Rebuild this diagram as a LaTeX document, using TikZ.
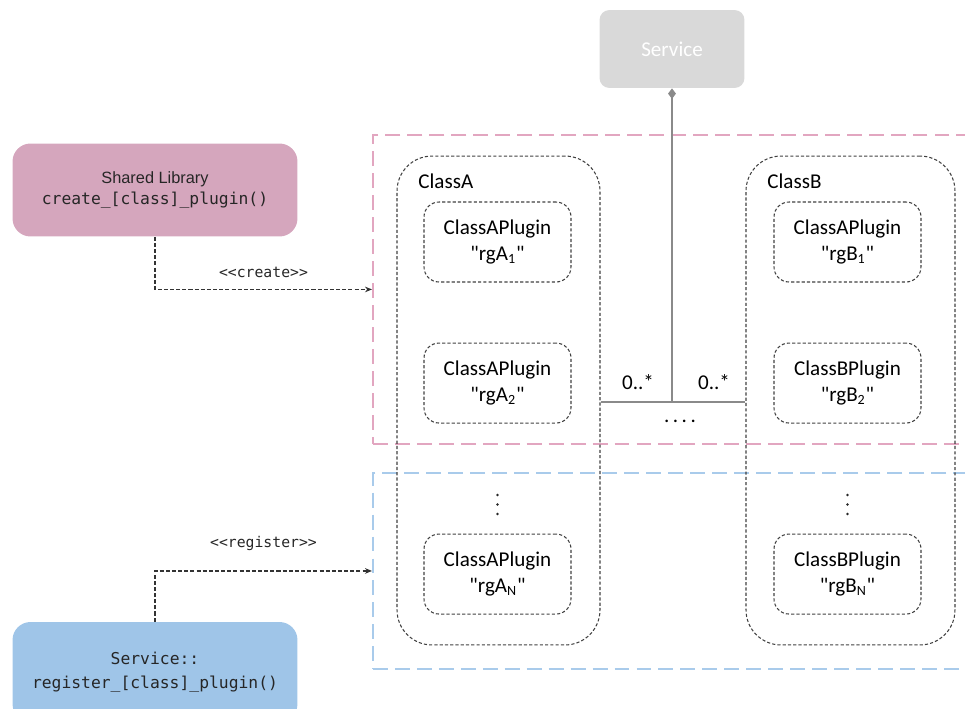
\documentclass[tikz,border=0pt]{standalone}
\usepackage{fontspec}
\setmainfont{Carlito}
\newfontfamily\arialf{Liberation Sans}
\newfontfamily\monof{DejaVu Sans Mono}
\usetikzlibrary{positioning, arrows.meta}
\definecolor{pinkfill}{HTML}{D5A6BD}
\definecolor{bluefill}{HTML}{9FC5E8}
\definecolor{pinkline}{HTML}{E2A6C0}
\definecolor{blueline}{HTML}{A9CBEB}
\definecolor{svcgray}{HTML}{D9D9D9}
\definecolor{lngray}{HTML}{8A8A8A}
\newcommand{\qq}[1]{\textquotedbl#1\textquotedbl}

\begin{document}
\begin{tikzpicture}[x=0.02cm, y=-0.02cm,
	src/.style={fill=#1, rounded corners=0.36cm, minimum width=5.7cm, align=center, text=black!85},
	grp/.style={draw=#1, line width=1.1pt, dash pattern=on 8.5pt off 4pt, minimum width=13cm, anchor=north west},
	cls/.style={draw=black!75, line width=0.6pt, dash pattern=on 1.8pt off 1.2pt, rounded corners=0.7cm, minimum height=9.78cm},
	pl/.style={draw=black!75, line width=0.6pt, dash pattern=on 1.8pt off 1.2pt, rounded corners=0.3cm, minimum width=2.94cm, minimum height=1.6cm, align=center, font=\fontsize{12}{14.7}\selectfont},
	lbl/.style={font=\fontsize{12}{14}\selectfont, inner sep=0pt},
	dep/.style={draw=black!80, line width=0.7pt, dash pattern=on 2.3pt off 1.2pt, -{Stealth[length=4pt,width=3.2pt]}},
	stereo/.style={font=\monof\fontsize{8.4}{10}\selectfont, text=black!85},
	node distance=1.2cm]
	\useasboundingbox (0,0) rectangle (965,708);
	\clip (0,0) rectangle (965,708);

	% groups
	\node[grp=pinkline, minimum height=6.18cm] (grpC) at (372,134) {};
	\node[grp=blueline, minimum height=3.92cm] (grpR) at (372,472) {};

	% sources
	\node[src=pinkfill, minimum height=1.86cm, font=\arialf\fontsize{9.3}{12}\selectfont] (lib) at (155,190) {Shared Library\\{\monof create\_[class]\_plugin()}};
	\node[src=bluefill, minimum height=2cm, font=\monof\fontsize{9.3}{13.6}\selectfont] (reg) at (155,672) {Service::\\register\_[class]\_plugin()};
	\node[fill=svcgray, rounded corners=0.2cm, minimum width=2.9cm, minimum height=1.56cm, text=white, font=\fontsize{12}{14}\selectfont] (svc) at (672,49) {Service};

	% classes
	\node[cls, minimum width=4.06cm] (clsA) at (498.5,400.5) {};
	\node[cls, minimum width=4.18cm] (clsB) at (850.5,400.5) {};
	\node[lbl, anchor=west] (lblA) at (418,181) {ClassA};
	\node[lbl, anchor=west] (lblB) at (767,181) {ClassB};

	\node[pl] (pA1) at (497.5,242) {ClassAPlugin\\\qq{rgA\textsubscript{1}}};
	\node[pl, below=of pA1] (pA2) {ClassAPlugin\\\qq{rgA\textsubscript{2}}};
	\node[pl, below=2.2cm of pA2] (pAN) {ClassAPlugin\\\qq{rgA\textsubscript{N}}};
	\node[pl] (pB1) at (847.5,242) {ClassAPlugin\\\qq{rgB\textsubscript{1}}};
	\node[pl, below=of pB1] (pB2) {ClassBPlugin\\\qq{rgB\textsubscript{2}}};
	\node[pl, below=2.2cm of pB2] (pBN) {ClassBPlugin\\\qq{rgB\textsubscript{N}}};
	% vertical dots
	\foreach \yy in {495,504.5,514} {
		\fill[black!85] (pA2 |- 0,\yy) circle (1.3);
		\fill[black!85] (pB2 |- 0,\yy) circle (1.3);
	}

	% composition
	\coordinate (j) at (672,402);
	\draw[lngray, line width=1.4pt, {Diamond[length=6pt,width=4.5pt]}-] (svc.south) -- (j);
	\draw[lngray, line width=1.2pt] (clsA.east |- j) -- (clsB.west |- j);
	\node[lbl] (mA) at (638,382) {0..*};
	\node[lbl] (mB) at (714,382) {0..*};
	\node[lbl] (more) at (680,421) {.\,.\,.\,.};

	% dependencies
	\draw[dep] (lib.south) |- node[stereo, pos=0.75, above=3pt] {<<create>>} (grpC.west);
	\draw[dep] (reg.north) |- node[stereo, pos=0.75, above=8pt] {<<register>>} (grpR.west);
\end{tikzpicture}
\end{document}
